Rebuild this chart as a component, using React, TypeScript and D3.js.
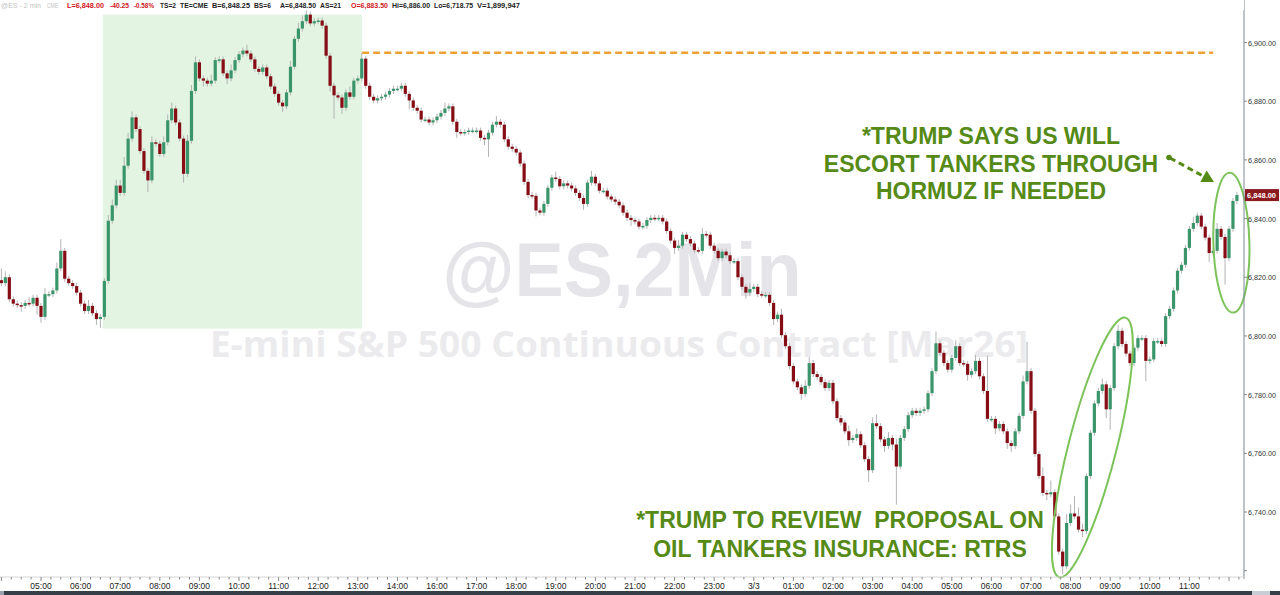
import React from "react";
import * as d3 from "d3";

// 6-minute candles, 10 per hour, first candle at 04:00
const BARS_PER_HOUR = 10;

const hourLabels = [
  "05:00", "06:00", "07:00", "08:00", "09:00", "10:00", "11:00", "12:00", "13:00", "14:00",
  "16:00", "17:00", "18:00", "19:00", "20:00", "21:00", "22:00", "23:00", "3/3", "01:00",
  "02:00", "03:00", "04:00", "05:00", "06:00", "07:00", "08:00", "09:00", "10:00", "11:00",
];

const firstOpen = 6819;

const closes = [
  6818, 6820, 6812.5, 6811, 6810.5, 6810.25, 6811.25, 6811, 6813, 6810.25,
  6806.5, 6814.25, 6814.25, 6815.5, 6823, 6829, 6819.5, 6818, 6817, 6814.75,
  6811, 6808.5, 6810.25, 6807.75, 6805.75, 6806.5, 6818.75, 6839.25, 6844.5, 6851.25,
  6848.75, 6858, 6867.25, 6874.5, 6870.5, 6863, 6856.25, 6853, 6866, 6865.5,
  6862, 6866, 6873.5, 6877.5, 6872.75, 6867.25, 6855.25, 6866.5, 6883.5, 6893.25,
  6887.75, 6887, 6886, 6887, 6894, 6894.25, 6889.5, 6887.75, 6890.5, 6894,
  6896, 6897.25, 6896.25, 6894.25, 6891, 6890, 6891.5, 6888.5, 6885, 6882.5,
  6879.5, 6878.25, 6883, 6891.75, 6901.25, 6904.75, 6907.25, 6909.5, 6906.5, 6907.25,
  6907.5, 6905.75, 6895.5, 6885.25, 6882, 6881.25, 6877.75, 6883, 6881.5, 6887,
  6887.75, 6894.5, 6885.25, 6881.5, 6880.25, 6881, 6881.5, 6882.25, 6883.5, 6884.25,
  6884.25, 6885.25, 6882.5, 6880.25, 6877.75, 6876.75, 6873.75, 6873.75, 6872.75, 6873.5,
  6874.75, 6876, 6877.5, 6878.25, 6873, 6869.5, 6869.25, 6869.5, 6870, 6870,
  6870, 6867.5, 6867, 6869.25, 6872, 6873, 6872, 6867, 6864.5, 6863.75,
  6862.5, 6858.75, 6852.5, 6848, 6847.75, 6842.75, 6842, 6845, 6850.5, 6854,
  6853.5, 6851, 6852, 6851.25, 6850.25, 6848.75, 6847, 6845, 6852.25, 6854.25,
  6852, 6849.5, 6849.5, 6847.5, 6846.5, 6845.75, 6844.5, 6842, 6840.25, 6839.5,
  6839, 6837.25, 6837.5, 6839.5, 6840.25, 6840, 6840.25, 6839, 6835.75, 6832.5,
  6830, 6830.75, 6834.5, 6833, 6831.5, 6829.25, 6829, 6834.75, 6834.5, 6830.75,
  6829, 6826.5, 6828.75, 6827.5, 6825.5, 6825.5, 6820, 6816.75, 6814.75, 6816,
  6816.75, 6814.25, 6814, 6814, 6811.25, 6805.75, 6807.25, 6800.25, 6796.5, 6789.75,
  6784.5, 6782.5, 6780.25, 6783, 6790.75, 6787, 6786, 6784.25, 6782.25, 6784,
  6777.75, 6772, 6770.5, 6767.5, 6764.5, 6765.25, 6766.5, 6762.75, 6758, 6754.25,
  6770.25, 6769.25, 6764.75, 6762.5, 6765.25, 6763, 6755.5, 6765.25, 6768.25, 6773,
  6774.5, 6773.75, 6774.5, 6775, 6780.5, 6788, 6797.5, 6794.25, 6790.75, 6788.5,
  6792.5, 6796.5, 6790.75, 6790.5, 6786.75, 6788, 6791.5, 6786.25, 6781.25, 6771.75,
  6771.75, 6768.5, 6770, 6767.5, 6763.5, 6762.5, 6767.5, 6772.75, 6784.5, 6788,
  6774.5, 6759.75, 6752.25, 6746.5, 6746, 6746.75, 6738.5, 6726.5, 6721.5, 6736.25,
  6739.5, 6738.5, 6734, 6733.5, 6752.25, 6767, 6777, 6781.25, 6783.5, 6775,
  6782.25, 6796.5, 6801.75, 6797.25, 6794, 6790.75, 6796, 6799.25, 6799.25, 6791.5,
  6792, 6798.25, 6798.25, 6797.25, 6806.75, 6809.25, 6815.5, 6822.25, 6824.25, 6830,
  6836.5, 6838.5, 6841, 6837.25, 6833.5, 6828.25, 6829, 6836.5, 6833.75, 6826.5,
  6836.5, 6846, 6848,
];

// points of upper / lower shadow beyond the body
const wickUp = [
  4, 2, 1, 1, 1, 1, 1, 2, 1, 1,
  1, 2, 1, 1, 2, 4, 1, 1, 1, 1,
  1, 1, 2, 1, 1, 1, 1, 2, 2, 2,
  2, 3, 2, 2, 1, 1, 1, 1, 2, 1,
  1, 2, 2, 2, 1, 1, 1, 2, 2, 2,
  1, 1, 1, 2, 1, 1, 1, 1, 2, 1,
  1, 1, 2, 1, 1, 1, 1, 1, 1, 1,
  1, 1, 1, 2, 1, 2, 2, 1.5, 1, 1,
  1, 1, 1, 1, 1, 1, 1, 1, 2, 1,
  1, 2, 1, 1, 1, 1, 1, 1, 1, 1,
  1, 1, 1, 1, 1, 1, 1, 1, 1, 1,
  1, 1, 2, 1, 1, 1, 1, 1, 1, 1,
  1, 1, 1, 1, 1, 2, 1, 1, 1, 1,
  1, 1, 1, 1, 1, 1, 1, 1, 1, 1,
  2, 1, 1, 1, 1, 1, 1, 1, 1, 2,
  1, 1, 1, 1, 1, 1, 1, 1, 1, 1,
  1, 1, 1, 1, 1, 1, 1, 1, 1, 1,
  1, 2, 1, 1, 1, 1, 1, 2, 1, 1,
  1, 1, 1, 1, 1, 1, 1, 1, 1, 2,
  1, 1, 1, 1, 1, 1, 1, 2, 1, 1,
  1, 1, 1, 2, 2, 1, 1, 1, 1, 1,
  1, 1, 1, 1, 2, 1, 2, 1, 1, 1,
  2, 3, 1, 1, 2, 1, 2, 1, 1, 1,
  1, 1, 1, 1, 1, 1, 4, 1, 1, 1,
  1, 2, 1, 1, 1, 1, 2, 1, 1, 12,
  1, 1, 1, 1, 1, 1, 1, 1, 2, 10,
  1, 1, 1, 3, 1, 4, 1, 1, 1, 3,
  3, 6, 3, 2, 1, 1, 1, 1, 2, 1,
  1, 1, 2, 1, 1, 1, 1, 1, 1, 1,
  1, 1, 1, 1, 1, 1, 1, 1, 1, 1,
  1, 2, 1, 1, 1, 1, 1, 2, 1, 1,
  1, 1, 1,
];

const wickDn = [
  1, 1, 1, 1, 1, 2, 1, 1, 1, 3,
  2, 1, 1, 1, 1, 1, 1, 1, 1, 1,
  1, 1, 1, 1, 2, 3, 1, 1, 1, 1,
  1, 1, 1, 1, 1, 1, 1, 4, 1, 1,
  1, 1, 1, 1, 1, 1, 3, 1, 1, 1,
  1, 2, 1, 1, 1, 1, 1, 2, 1, 1,
  1, 1, 1, 1, 1, 1, 1, 1, 1, 1,
  1, 2, 1, 1, 1, 1, 1, 1, 1, 1,
  1, 1, 1, 2, 8, 1, 2, 1, 1, 1,
  1, 1, 1, 1, 1, 1, 1, 1, 1, 1,
  1, 1, 1, 3, 1, 1, 1, 1, 1, 1,
  1, 1, 1, 1, 1, 2, 1, 1, 1, 1,
  1, 1, 2, 6, 1, 1, 1, 1, 1, 1,
  1, 1, 1, 1, 1, 2, 1, 1, 1, 1,
  1, 1, 1, 1, 1, 1, 1, 2, 1, 1,
  1, 1, 1, 1, 1, 1, 1, 1, 1, 2,
  1, 1, 1, 1, 1, 1, 1, 1, 1, 1,
  2, 1, 1, 1, 1, 1, 1, 1, 1, 1,
  1, 1, 1, 1, 1, 1, 1, 1, 2, 1,
  1, 1, 1, 1, 1, 2, 1, 1, 1, 1,
  1, 1, 2, 1, 1, 1, 1, 1, 1, 1,
  1, 1, 1, 1, 2, 1, 1, 1, 1, 4,
  1, 1, 1, 2, 1, 2, 13, 1, 1, 1,
  1, 1, 1, 1, 1, 1, 1, 1, 1, 1,
  1, 1, 1, 1, 2, 1, 1, 1, 1, 1,
  1, 2, 1, 1, 2, 2, 1, 1, 1, 1,
  1, 1, 1, 1, 2, 1, 1, 1, 2.75, 1,
  1, 1, 1, 2, 1, 1, 1, 1, 1, 3,
  7, 1, 1, 1, 1, 1, 1, 1, 1, 7,
  1, 1, 1, 1, 1, 1, 1, 1, 1, 1,
  1, 1, 1, 1, 1, 3, 1, 1, 1, 9,
  1, 1, 1,
];

const priceTicks = [6720, 6740, 6760, 6780, 6800, 6820, 6840, 6860, 6880, 6900];
const lastPrice = 6848;
const resistanceLevel = 6896.5;

const headerTexts = [
  "@ES - 2 min", "CME", "L=6,848.00", "-40.25", "-0.58%", "TS=2", "TE=CME", "B=6,848.25",
  "BS=6", "A=6,848.50", "AS=21", "O=6,883.50", "Hi=6,886.00", "Lo=6,718.75", "V=1,899,947",
];
const headerTones = ["mute", "mute", "red", "red", "red", "ink", "ink", "ink", "ink", "ink", "ink", "red", "ink", "ink", "ink"];
const headerX = [1, 47, 67, 110, 134, 160, 180, 212, 254, 280, 320, 351, 392, 434, 477];
const headerW = [40, 11, 37, 19, 20, 16, 28, 38, 17, 36, 21, 37, 38, 39, 43];

const upperNote = ["*TRUMP SAYS US WILL", "ESCORT TANKERS THROUGH", "HORMUZ IF NEEDED"];
const lowerNote = ["*TRUMP TO REVIEW  PROPOSAL ON", "OIL TANKERS INSURANCE: RTRS"];

const FONT = "'Liberation Sans', Arial, sans-serif";
const UP = "#3b956a";
const DOWN = "#860d16";
const NOTE = "#558a17";
const RING = "#7cc35a";

export default function App() {
  const x = d3.scaleLinear().domain([0, 310]).range([1.4, 1229]);
  const y = d3.scaleLinear().domain([6740, 6900]).range([512, 42.5]);
  const plotRight = 1244;
  const plotBottom = 577;

  const candles = closes.map((c, i) => {
    const o = i === 0 ? firstOpen : closes[i - 1];
    return { i, o, c, h: Math.max(o, c) + wickUp[i], l: Math.min(o, c) - wickDn[i] };
  });

  const minorTicks = d3.range(0, closes.length, BARS_PER_HOUR / 4);

  // arrow toward the latest rally
  const a0 = [1170, 158];
  const a1 = [1214, 182];
  const len = Math.hypot(a1[0] - a0[0], a1[1] - a0[1]);
  const ux = (a1[0] - a0[0]) / len;
  const uy = (a1[1] - a0[1]) / len;
  const bx = a1[0] - 12 * ux;
  const by = a1[1] - 12 * uy;
  const head = `${a1[0]},${a1[1]} ${bx - 6.5 * uy},${by + 6.5 * ux} ${bx + 6.5 * uy},${by - 6.5 * ux}`;

  return (
    <div style={{ position: "absolute", left: 0, top: 0 }}>
      <svg width={1280} height={595} style={{ display: "block", background: "#fff" }}>
        {/* morning rally zone */}
        <rect
          x={x(25.6)}
          y={y(6909.5)}
          width={x(91.1) - x(25.6)}
          height={y(6802.5) - y(6909.5)}
          fill="#e3f4e2"
        />

        {/* watermark */}
        <text x={622} y={296} textAnchor="middle" fontFamily={FONT} fontWeight="bold" fontSize={76}
          fill="#e5e5e9" textLength={359} lengthAdjust="spacingAndGlyphs">@ES,2Min</text>
        <text x={619} y={357} textAnchor="middle" fontFamily="'Open Sans', sans-serif" fontWeight="bold" fontSize={36}
          fill="#ebebee" textLength={818} lengthAdjust="spacingAndGlyphs">E-mini S&amp;P 500 Continuous Contract [Mar26]</text>

        {/* resistance */}
        <line x1={x(91.1)} x2={x(306)} y1={y(resistanceLevel)} y2={y(resistanceLevel)}
          stroke="#f0a035" strokeWidth={2.4} strokeDasharray="7 4" />

        {/* candles */}
        <g>
          {candles.map((d) => (
            <line key={`w${d.i}`} x1={x(d.i)} x2={x(d.i)} y1={y(d.h)} y2={y(d.l)} stroke="#b4b4b4" strokeWidth={1} />
          ))}
          {candles.map((d) => {
            const top = y(Math.max(d.o, d.c));
            const h = Math.max(1.5, y(Math.min(d.o, d.c)) - top);
            return (
              <rect key={`b${d.i}`} x={x(d.i) - 1.6} y={top} width={3.2} height={h}
                fill={d.c >= d.o ? UP : DOWN} />
            );
          })}
        </g>

        {/* rings */}
        <ellipse cx={x(275.5)} cy={y(6762)} rx={134} ry={24} fill="none" stroke={RING} strokeWidth={2}
          transform={`rotate(-75.7 ${x(275.5)} ${y(6762)})`} />
        <ellipse cx={x(310.6)} cy={y(6831.8)} rx={18} ry={70} fill="none" stroke={RING} strokeWidth={2}
          transform={`rotate(-1.5 ${x(310.6)} ${y(6831.8)})`} />

        {/* headlines */}
        <g fontFamily={FONT} fontWeight="bold" fontSize={23} fill={NOTE} textAnchor="middle">
          {upperNote.map((t, k) => (
            <text key={t} x={991} y={144 + k * 27.5}>{t}</text>
          ))}
          {lowerNote.map((t, k) => (
            <text key={t} x={840} y={528 + k * 29} style={{ whiteSpace: "pre" }}>{t}</text>
          ))}
        </g>
        <line x1={a0[0]} y1={a0[1]} x2={bx} y2={by} stroke={NOTE} strokeWidth={3} strokeDasharray="6 4" />
        <circle cx={a0[0] - 1} cy={a0[1] - 0.5} r={2.8} fill={NOTE} />
        <polygon points={head} fill={NOTE} />

        {/* price axis */}
        <line x1={plotRight} x2={plotRight} y1={0} y2={plotBottom + 2} stroke="#7e8994" strokeWidth={1} />
        {priceTicks.map((p) => (
          <g key={p}>
            <line x1={plotRight} x2={plotRight + 3} y1={y(p)} y2={y(p)} stroke="#7e8994" />
            {y(p) < 560 && (
              <text x={plotRight + 4} y={y(p) + 3} fontFamily={FONT} fontSize={8} fill="#333"
                textLength={28} lengthAdjust="spacingAndGlyphs">{d3.format(",.2f")(p)}</text>
            )}
          </g>
        ))}
        <rect x={plotRight + 1} y={y(lastPrice) - 6} width={34} height={12} fill="#8a1a1e" />
        <text x={plotRight + 3} y={y(lastPrice) + 3} fontFamily={FONT} fontWeight="bold" fontSize={8} fill="#fff"
          textLength={29} lengthAdjust="spacingAndGlyphs">{d3.format(",.2f")(lastPrice)}</text>

        {/* time axis */}
        <line x1={0} x2={plotRight} y1={plotBottom} y2={plotBottom} stroke="#d6d6d6" />
        {minorTicks.map((b) => (
          <line key={b} x1={x(b)} x2={x(b)} y1={plotBottom} y2={plotBottom + (b % BARS_PER_HOUR === 0 ? 4 : 2.5)}
            stroke="#8a8a8a" />
        ))}
        {hourLabels.map((t, k) => (
          <text key={`${t}${k}`} x={x((k + 1) * BARS_PER_HOUR)} y={589} textAnchor="middle"
            fontFamily={FONT} fontSize={8.5} fill="#222">{t}</text>
        ))}
        <rect x={0} y={591} width={1252} height={4} fill="#363e48" />
        <rect x={1252} y={591} width={18} height={4} fill="#c9ced6" />
        <rect x={1270} y={591} width={10} height={4} fill="#363e48" />
        <rect x={0} y={591} width={4} height={4} fill="#9aa3ad" />

        {/* header quote line */}
        <rect x={0} y={0} width={plotRight} height={10} fill="#fff" />
        {headerTexts.map((t, k) => (
          <text key={t} x={headerX[k]} y={8} fontFamily={FONT} fontSize={8}
            fontWeight={headerTones[k] === "mute" ? "normal" : "bold"}
            fill={headerTones[k] === "red" ? "#d0171c" : headerTones[k] === "mute" ? "#c4c4c4" : "#1c1c1c"}
            textLength={headerW[k]} lengthAdjust="spacingAndGlyphs">{t}</text>
        ))}
      </svg>
    </div>
  );
}
